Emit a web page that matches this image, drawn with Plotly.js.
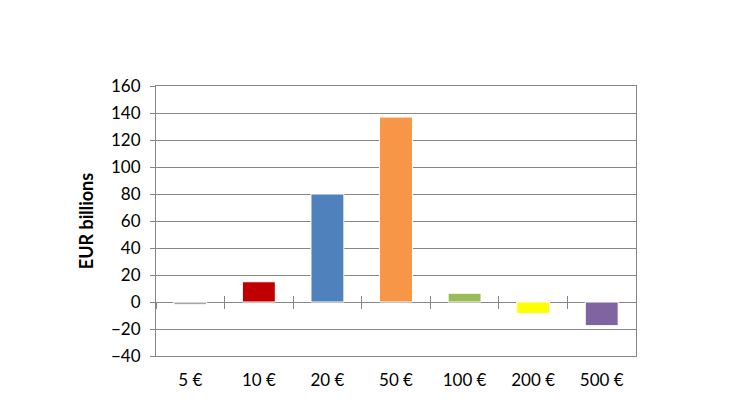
<!DOCTYPE html>
<html><head><meta charset="utf-8">
<script src="https://cdn.plot.ly/plotly-3.0.1.min.js"></script>
<style>html,body{margin:0;padding:0;background:#fff}#c{width:730px;height:410px}</style>
</head><body><div id="c"></div>
<script>
const categories = ["5 €","10 €","20 €","50 €","100 €","200 €","500 €"];
const values = [-2, 15, 80, 137, 6.5, -8.5, -17.5];
const colors = ["#a6a6a6","#c00000","#4f81bd","#f79646","#9bbb59","#ffff00","#8064a2"];
const yTicks = [-40,-20,0,20,40,60,80,100,120,140,160];

const gridC = "#868686";
const font = {family: "Lato, 'Open Sans', sans-serif", size: 17, color: "#000"};

const traces = [
  {type:"bar", x:categories, y:values, marker:{color:colors, line:{color:"#ffffff", width:1}}, hoverinfo:"x+y", xaxis:"x", yaxis:"y"},
  {type:"scatter", mode:"markers", x:categories, y:values, marker:{opacity:0}, hoverinfo:"skip", xaxis:"x2", yaxis:"y", showlegend:false},
  {type:"scatter", mode:"markers", x:categories, y:values, marker:{opacity:0}, hoverinfo:"skip", xaxis:"x3", yaxis:"y", showlegend:false}
];

const layout = {
  width:730, height:410,
  margin:{l:156, r:94, t:86, b:54},
  paper_bgcolor:"#fff", plot_bgcolor:"#fff",
  showlegend:false,
  bargap:0.52,
  font:font,
  xaxis:{type:"category", categoryarray:categories, range:[-0.5,6.5], showgrid:false, zeroline:false,
         showline:true, linecolor:gridC, linewidth:1, mirror:true, ticks:"", tickfont:font, ticklabelstandoff:9},
  xaxis2:{type:"category", categoryarray:categories, range:[-0.5,6.5], overlaying:"x", anchor:"free", position:0.2,
          showgrid:false, zeroline:false, showline:false, showticklabels:false, ticks:"outside", tickson:"boundaries",
          ticklen:6, tickcolor:gridC, tickwidth:1},
  xaxis3:{type:"category", categoryarray:categories, range:[-0.5,6.5], overlaying:"x", anchor:"free", position:0.2,
          showgrid:false, zeroline:false, showline:false, showticklabels:false, ticks:"inside", tickson:"boundaries",
          ticklen:6, tickcolor:gridC, tickwidth:1},
  yaxis:{range:[-40,160], tickvals:yTicks, showgrid:true, gridcolor:gridC, gridwidth:1,
         zeroline:true, zerolinecolor:gridC, zerolinewidth:1,
         showline:true, linecolor:gridC, linewidth:1, mirror:true,
         ticks:"outside", ticklen:5, tickcolor:gridC, ticklabelstandoff:6, tickfont:font,
         title:{text:"<b>EUR billions</b>", font:{family:"Lato, 'Open Sans', sans-serif", size:18, color:"#000"}, standoff:12}}
};

Plotly.newPlot("c", traces, layout, {displayModeBar:false, staticPlot:true});
</script>
</body></html>
